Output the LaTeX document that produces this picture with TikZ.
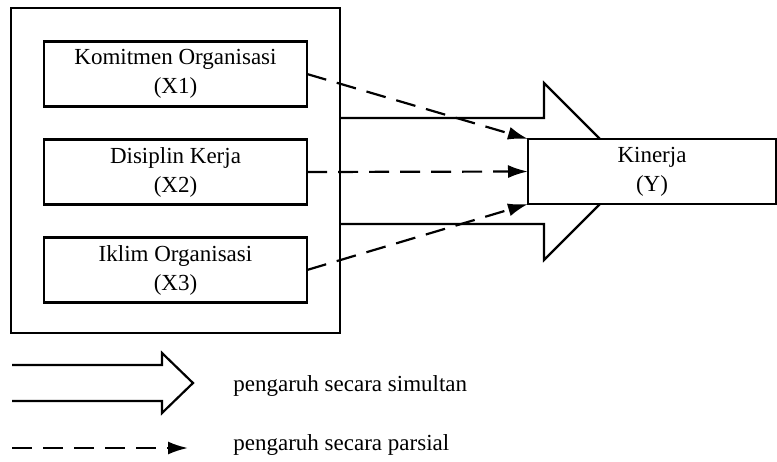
\documentclass[tikz,border=0pt]{standalone}
\usepackage{fontspec}
\setmainfont{Liberation Serif}
\usetikzlibrary{arrows.meta,positioning}

\begin{document}
\begin{tikzpicture}[
 x=0.5pt,y=-0.5pt,
 every node/.style={font=\fontsize{11.5}{14.5}\selectfont},
 varbox/.style={draw,line width=1.1pt,align=center,minimum width=131.5pt,minimum height=32.5pt,inner sep=0pt,outer sep=0pt},
 groupbox/.style={draw,line width=1.1pt,minimum width=164.5pt,minimum height=162.5pt,outer sep=0pt},
 simul/.style={line width=1.1pt,line join=miter},
 parsial/.style={line width=1.1pt,dash pattern=on 10pt off 5.5pt,-{Latex[length=10pt,width=6.5pt]}},
 legend/.style={anchor=base west,inner sep=0pt}
]
\useasboundingbox (0,0) rectangle (777,461);
\node[groupbox] (group) at (175.5,170.5) {};
\node[varbox] (x1) at (175.5,74) {Komitmen Organisasi\\(X1)};
\node[varbox,below=16.5pt of x1] (x2) {Disiplin Kerja\\(X2)};
\node[varbox,below=16.5pt of x2] (x3) {Iklim Organisasi\\(X3)};
% simultaneous influence
\draw[simul] (340,118) -- (544,118) -- (544,83) -- (632.5,171.5) -- (544,260) -- (544,224) -- (340,224);
\node[varbox,fill=white,minimum width=124pt] (kin) at (652,171.5) {Kinerja\\(Y)};
% partial influence
\draw[parsial] (x1.east) -- (kin.north west);
\draw[parsial] (x2.east) -- (kin.west);
\draw[parsial] (x3.east) -- (kin.south west);
% legend
\draw[simul] (12,365) -- (162,365) -- (162,353) -- (193,383) -- (162,413) -- (162,401) -- (12,401);
\node[legend] (simlabel) at (233,391) {pengaruh secara simultan};
\coordinate (pstart) at (12,448);
\coordinate (pend) at (188,448);
\draw[parsial] (pstart) -- (pend);
\node[legend] (parlabel) at (233,450) {pengaruh secara parsial};
\end{tikzpicture}
\end{document}
